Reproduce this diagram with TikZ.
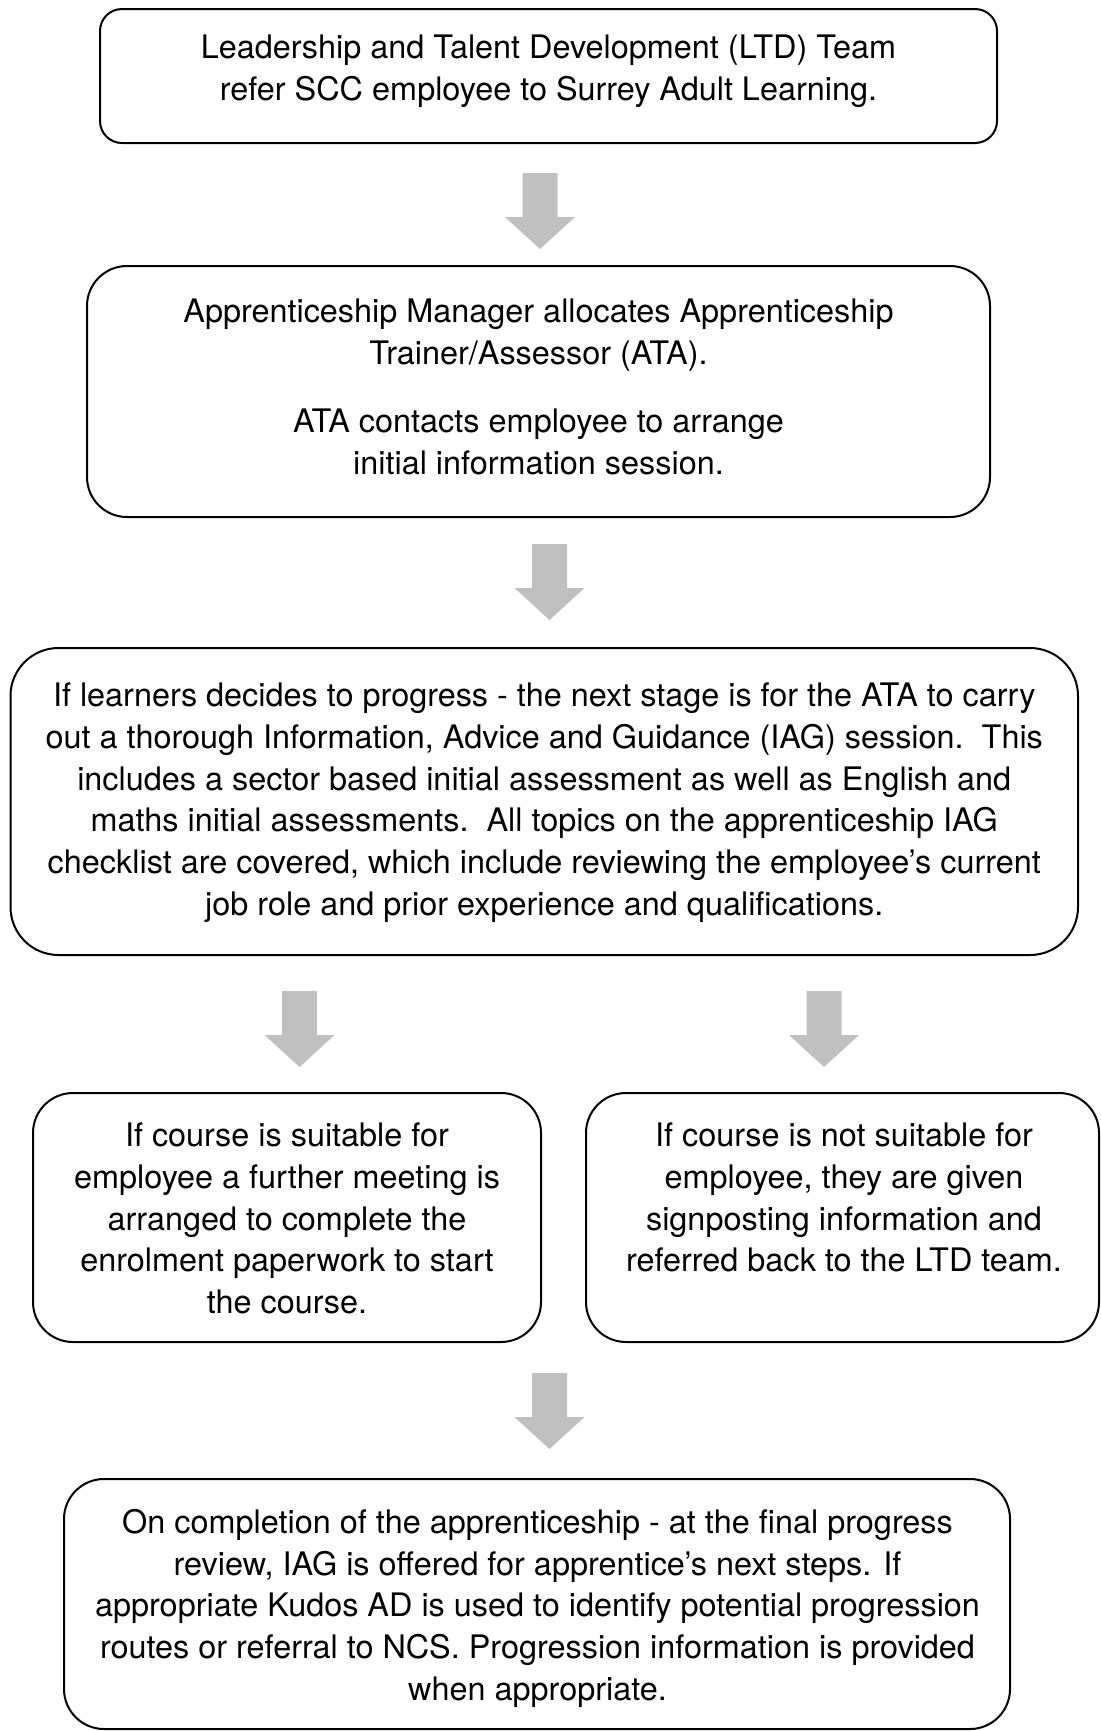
\documentclass[tikz,border=0pt]{standalone}
\usepackage{fontspec}
\setmainfont{TeX Gyre Heros}
\definecolor{arrowgray}{HTML}{C0C0C0}
\begin{document}
\begin{tikzpicture}[x=0.5pt,y=-0.5pt,
  box/.style={draw=black, line width=1pt, rounded corners=#1, inner sep=0pt, fill=none},
  txt/.style={anchor=north, inner sep=0pt, align=center, font={\fontsize{16.2pt}{20.85pt}\selectfont}},
  downarrow/.pic={\fill[arrowgray] (-17.5,0) -- (17.5,0) -- (17.5,44) -- (35,44) -- (0,76) -- (-35,44) -- (-17.5,44) -- cycle;}
]
\useasboundingbox[fill=white] (0,0) rectangle (1100,1731);

% boxes
\node[box=11pt, minimum width=448.5pt, minimum height=67pt] (b1) at (548.5,76) {};
\node[box=20pt, minimum width=451.5pt, minimum height=125.5pt] (b2) at (538.5,391.5) {};
\node[box=24pt, minimum width=533.75pt, minimum height=153.5pt] (b3) at (544.25,801.5) {};
\node[box=20pt, minimum width=254pt, minimum height=124.5pt] (b4) at (287,1217.5) {};
\node[box=20pt, minimum width=256.5pt, minimum height=124.5pt] (b5) at (842.5,1217.5) {};
\node[box=20pt, minimum width=473pt, minimum height=125pt] (b6) at (537,1604) {};

% texts
\node[txt] (t1) at (548.5,34.8) {Leadership and Talent Development (LTD) Team\\refer SCC employee to Surrey Adult Learning.};
\node[txt] (t2) at (538.5,298.7) {Apprenticeship Manager allocates Apprenticeship\\Trainer/Assessor (ATA).\\[13.2pt]ATA contacts employee to arrange\\initial information session.};
\node[txt] (t3) at (544.25,682.7) {If learners decides to progress - the next stage is for the ATA to carry\\out a thorough Information, Advice and Guidance (IAG) session.\ \ This\\includes a sector based initial assessment as well as English and\\maths initial assessments.\ \ All topics on the apprenticeship IAG\\checklist are covered, which include reviewing the employee’s current\\job role and prior experience and qualifications.};
\node[txt] (t4) at (287,1122.7) {If course is suitable for\\employee a further meeting is\\arranged to complete the\\enrolment paperwork to start\\the course.};
\node[txt] (t5) at (844,1122.7) {If course is not suitable for\\employee, they are given\\signposting information and\\referred back to the LTD team.};
\node[txt] (t6) at (537.5,1508.7) {On completion of the apprenticeship - at the final progress\\review, IAG is offered for apprentice’s next steps. If\\appropriate Kudos AD is used to identify potential progression\\routes or referral to NCS. Progression information is provided\\when appropriate.};

% block arrows
\pic at (540,173) {downarrow};
\pic at (549.5,544) {downarrow};
\pic at (299.5,991) {downarrow};
\pic at (824,991) {downarrow};
\pic at (549.5,1373) {downarrow};
\end{tikzpicture}
\end{document}
